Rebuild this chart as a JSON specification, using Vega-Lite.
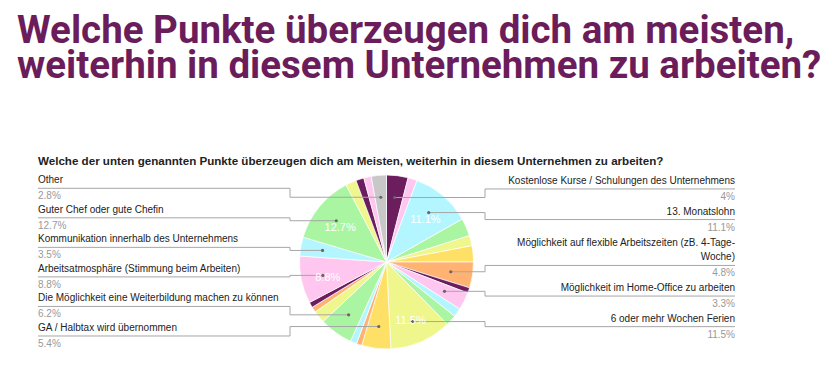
{
  "$schema": "https://vega.github.io/schema/vega-lite/v6.json",
  "width": 836,
  "height": 219,
  "autosize": {"type": "none"},
  "padding": {"top": 150, "left": 0, "right": 0, "bottom": 0},
  "background": "white",
  "view": {"stroke": null},
  "title": {
    "text": ["Welche Punkte überzeugen dich am meisten,", "weiterhin in diesem Unternehmen zu arbeiten?"],
    "anchor": "start",
    "frame": "group",
    "dx": 17,
    "offset": 64,
    "font": "Roboto, sans-serif",
    "fontSize": 38.5,
    "fontWeight": "bold",
    "color": "#6b1c5a",
    "lineHeight": 35
  },
  "layer": [
    {
      "data": {"values": [
        {"nr": 1, "label": "Kostenlose Kurse / Schulungen des Unternehmens", "anteil": 0.04},
        {"nr": 2, "anteil": 0.017},
        {"nr": 3, "label": "13. Monatslohn", "anteil": 0.111},
        {"nr": 4, "anteil": 0.033},
        {"nr": 5, "anteil": 0.019},
        {"nr": 6, "anteil": 0.03},
        {"nr": 7, "label": ["Möglichkeit auf flexible Arbeitszeiten (zB. 4-Tage-", "Woche)"], "anteil": 0.048},
        {"nr": 8, "anteil": 0.01},
        {"nr": 9, "label": "Möglichkeit im Home-Office zu arbeiten", "anteil": 0.033},
        {"nr": 10, "anteil": 0.016},
        {"nr": 11, "anteil": 0.02},
        {"nr": 12, "label": "6 oder mehr Wochen Ferien", "anteil": 0.115},
        {"nr": 13, "label": "GA / Halbtax wird übernommen", "anteil": 0.054},
        {"nr": 14, "anteil": 0.01},
        {"nr": 15, "anteil": 0.012},
        {"nr": 16, "label": "Die Möglichkeit eine Weiterbildung machen zu können", "anteil": 0.062},
        {"nr": 17, "anteil": 0.023},
        {"nr": 18, "anteil": 0.01},
        {"nr": 19, "anteil": 0.01},
        {"nr": 20, "label": "Arbeitsatmosphäre (Stimmung beim Arbeiten)", "anteil": 0.088},
        {"nr": 21, "label": "Kommunikation innerhalb des Unternehmens", "anteil": 0.035},
        {"nr": 22, "label": "Guter Chef oder gute Chefin", "anteil": 0.127},
        {"nr": 23, "anteil": 0.02},
        {"nr": 24, "anteil": 0.015},
        {"nr": 25, "anteil": 0.014},
        {"nr": 26, "label": "Other", "anteil": 0.028}
      ]},
      "transform": [
        {"window": [{"op": "sum", "field": "anteil", "as": "kum"}], "sort": [{"field": "nr"}], "frame": [null, 0]},
        {"calculate": "2*PI*(datum.kum - datum.anteil/2)", "as": "mitte"},
        {"calculate": "386.5 + 65*sin(datum.mitte)", "as": "px"},
        {"calculate": "262 - 65*cos(datum.mitte)", "as": "py"},
        {"calculate": "386.5 + 60*sin(datum.mitte)", "as": "lx"},
        {"calculate": "262 - 60*cos(datum.mitte) + 4", "as": "ly"},
        {"calculate": "datum.label == null ? 'keine' : (datum.mitte < PI ? 'rechts' : 'links')", "as": "seite"},
        {"calculate": "datum.label == null ? 0 : (isArray(datum.label) ? length(datum.label) : 1) + 1", "as": "zeilen"},
        {"calculate": "datum.seite == 'rechts' ? datum.nr : -datum.nr", "as": "folge"},
        {"window": [{"op": "sum", "field": "zeilen", "as": "zkum"}], "groupby": ["seite"], "sort": [{"field": "folge"}], "frame": [null, 0]},
        {"calculate": "datum.seite == 'rechts' ? 181.3 + 15.3*(datum.zkum - 1.5) : 180.9 + 14.77*(datum.zkum - 1.5)", "as": "uy"},
        {"calculate": "datum.uy - 14*max(datum.zeilen - 2, 0)", "as": "ty"},
        {"calculate": "datum.seite == 'rechts' ? 485 : 290", "as": "jx"},
        {"calculate": "datum.seite == 'rechts' ? 735 : 38", "as": "ax"}
      ],
      "layer": [
        {
          "mark": {"type": "arc", "radius": 87, "stroke": "white", "strokeWidth": 0.7},
          "encoding": {
            "theta": {"field": "anteil", "type": "quantitative", "stack": true},
            "order": {"field": "nr", "type": "quantitative"},
            "color": {
              "field": "nr", "type": "nominal", "legend": null,
              "scale": {
                "domain": [1,2,3,4,5,6,7,8,9,10,11,12,13,14,15,16,17,18,19,20,21,22,23,24,25,26],
                "range": ["#6b1d5e","#ffc6ef","#b3f6ff","#aaf5a2","#eef68c","#ffe066","#ffb272","#6b1d5e","#ffc6ef","#b3f6ff","#aaf5a2","#eef68c","#ffe066","#ffb272","#b3f6ff","#aaf5a2","#eef68c","#ffb272","#6b1d5e","#ffc6ef","#b3f6ff","#aaf5a2","#eef68c","#6b1d5e","#ffc6ef","#c8c8c8"]
              }
            },
            "x": {"datum": 386.5, "type": "quantitative", "scale": {"domain": [0, 836], "nice": false, "zero": false}, "axis": null},
            "y": {"datum": 262, "type": "quantitative", "scale": {"domain": [150, 369], "nice": false, "zero": false, "reverse": true}, "axis": null}
          }
        },
        {
          "transform": [{"filter": "datum.seite != 'keine'"}],
          "mark": {"type": "rule", "color": "#a6a6a6", "strokeWidth": 1},
          "encoding": {
            "x": {"field": "ax", "type": "quantitative", "axis": null},
            "x2": {"field": "jx"},
            "y": {"field": "uy", "type": "quantitative", "axis": null}
          }
        },
        {
          "transform": [{"filter": "datum.seite != 'keine'"}],
          "mark": {"type": "rule", "color": "#a6a6a6", "strokeWidth": 1},
          "encoding": {
            "x": {"field": "jx", "type": "quantitative", "axis": null},
            "y": {"field": "uy", "type": "quantitative", "axis": null},
            "y2": {"field": "py"}
          }
        },
        {
          "transform": [{"filter": "datum.seite != 'keine'"}],
          "mark": {"type": "rule", "color": "#a6a6a6", "strokeWidth": 1},
          "encoding": {
            "x": {"field": "jx", "type": "quantitative", "axis": null},
            "x2": {"field": "px"},
            "y": {"field": "py", "type": "quantitative", "axis": null}
          }
        },
        {
          "transform": [{"filter": "datum.seite != 'keine'"}],
          "mark": {"type": "point", "filled": true, "size": 10, "color": "#666666", "opacity": 1},
          "encoding": {
            "x": {"field": "px", "type": "quantitative", "axis": null},
            "y": {"field": "py", "type": "quantitative", "axis": null}
          }
        },
        {
          "transform": [{"filter": "datum.anteil >= 0.08"}],
          "mark": {"type": "text", "color": "white", "font": "Liberation Sans, Arial, sans-serif", "fontSize": 11, "align": "center", "baseline": "middle"},
          "encoding": {
            "x": {"field": "lx", "type": "quantitative", "axis": null},
            "y": {"field": "ly", "type": "quantitative", "axis": null},
            "text": {"field": "anteil", "type": "quantitative", "format": ".1~%"}
          }
        },
        {
          "transform": [{"filter": "datum.seite == 'links'"}],
          "mark": {"type": "text", "color": "#222222", "font": "Liberation Sans, Arial, sans-serif", "fontSize": 10, "align": "left", "baseline": "bottom", "dy": -3, "lineHeight": 14},
          "encoding": {
            "x": {"field": "ax", "type": "quantitative", "axis": null},
            "y": {"field": "ty", "type": "quantitative", "axis": null},
            "text": {"field": "label", "type": "nominal"}
          }
        },
        {
          "transform": [{"filter": "datum.seite == 'rechts'"}],
          "mark": {"type": "text", "color": "#222222", "font": "Liberation Sans, Arial, sans-serif", "fontSize": 10, "align": "right", "baseline": "bottom", "dy": -3, "lineHeight": 14},
          "encoding": {
            "x": {"field": "ax", "type": "quantitative", "axis": null},
            "y": {"field": "ty", "type": "quantitative", "axis": null},
            "text": {"field": "label", "type": "nominal"}
          }
        },
        {
          "transform": [{"filter": "datum.seite == 'links'"}],
          "mark": {"type": "text", "color": "#999999", "font": "Liberation Sans, Arial, sans-serif", "fontSize": 10, "align": "left", "baseline": "top", "dy": 3},
          "encoding": {
            "x": {"field": "ax", "type": "quantitative", "axis": null},
            "y": {"field": "uy", "type": "quantitative", "axis": null},
            "text": {"field": "anteil", "type": "quantitative", "format": ".1~%"}
          }
        },
        {
          "transform": [{"filter": "datum.seite == 'rechts'"}],
          "mark": {"type": "text", "color": "#999999", "font": "Liberation Sans, Arial, sans-serif", "fontSize": 10, "align": "right", "baseline": "top", "dy": 3},
          "encoding": {
            "x": {"field": "ax", "type": "quantitative", "axis": null},
            "y": {"field": "uy", "type": "quantitative", "axis": null},
            "text": {"field": "anteil", "type": "quantitative", "format": ".1~%"}
          }
        }
      ]
    },
    {
      "data": {"values": [{"titel": "Welche der unten genannten Punkte überzeugen dich am Meisten, weiterhin in diesem Unternehmen zu arbeiten?"}]},
      "mark": {"type": "text", "color": "#222222", "font": "Liberation Sans, Arial, sans-serif", "fontSize": 11.6, "fontWeight": "bold", "align": "left", "baseline": "middle"},
      "encoding": {
        "x": {"datum": 38, "type": "quantitative", "axis": null},
        "y": {"datum": 162, "type": "quantitative", "axis": null},
        "text": {"field": "titel", "type": "nominal"}
      }
    }
  ]
}
